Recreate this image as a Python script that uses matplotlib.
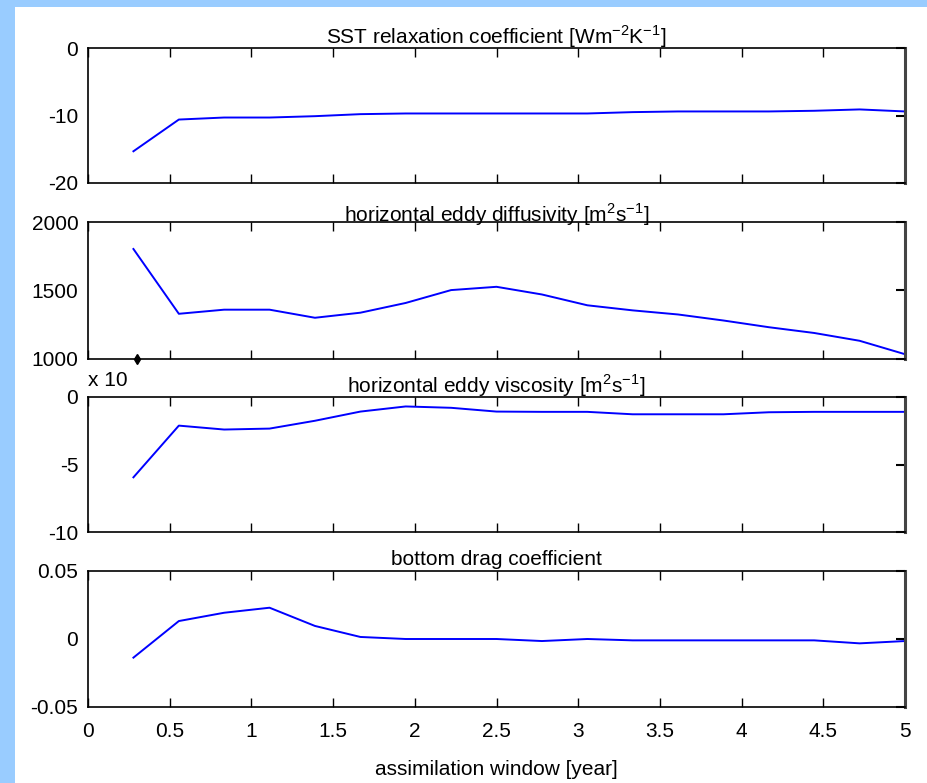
import matplotlib
matplotlib.use('Agg')
import matplotlib.pyplot as plt
from matplotlib.patches import Rectangle

plt.rcParams['font.family'] = ['Liberation Sans Narrow', 'Liberation Sans', 'DejaVu Sans']
plt.rcParams['mathtext.fontset'] = 'custom'
plt.rcParams['mathtext.rm'] = 'Liberation Sans'

# assimilation window, 100-day steps (in years)
window = [0.278, 0.556, 0.833, 1.111, 1.389, 1.667, 1.944, 2.222, 2.5,
          2.778, 3.056, 3.333, 3.611, 3.889, 4.167, 4.444, 4.722, 5.0]

sst_relax = [-15.3, -10.6, -10.3, -10.3, -10.1, -9.8, -9.7, -9.7, -9.7,
             -9.7, -9.7, -9.5, -9.4, -9.4, -9.4, -9.3, -9.1, -9.4]
eddy_diff = [1803, 1330, 1360, 1360, 1301, 1338, 1409, 1503, 1527,
             1471, 1392, 1355, 1325, 1281, 1232, 1190, 1133, 1035]
eddy_visc = [-5.95, -2.12, -2.41, -2.34, -1.76, -1.08, -0.70, -0.80, -1.08,
             -1.10, -1.10, -1.28, -1.28, -1.28, -1.13, -1.10, -1.10, -1.10]
bottom_drag = [-0.0137, 0.0132, 0.0193, 0.023, 0.0096, 0.0015, 0.0, 0.0, 0.0,
               -0.0015, 0.0, -0.001, -0.001, -0.001, -0.001, -0.001, -0.0032, -0.0015]

titles = [r'SST relaxation coefficient [Wm$^{-2}$K$^{-1}$]',
          r'horizontal eddy diffusivity [m$^{2}$s$^{-1}$]',
          r'horizontal eddy viscosity [m$^{2}$s$^{-1}$]',
          'bottom drag coefficient']
series = [sst_relax, eddy_diff, eddy_visc, bottom_drag]
ylims = [(-20, 0), (1000, 2000), (-10, 0), (-0.05, 0.05)]
yticks = [[-20, -10, 0], [1000, 1500, 2000], [-10, -5, 0], [-0.05, 0, 0.05]]
yticklabels = [['-20', '-10', '0'], ['1000', '1500', '2000'],
               ['-10', '-5', '0'], ['-0.05', '0', '0.05']]
xticks = [0, 0.5, 1, 1.5, 2, 2.5, 3, 3.5, 4, 4.5, 5]
xticklabels = ['0', '0.5', '1', '1.5', '2', '2.5', '3', '3.5', '4', '4.5', '5']

FS = 15

W, H = 927, 783
fig = plt.figure(figsize=(W / 100, H / 100), dpi=100, facecolor='#99ccff')
fig.patches.append(Rectangle((15 / W, 0), 1 - 15 / W, 1 - 7 / H,
                             transform=fig.transFigure, facecolor='white',
                             edgecolor='none', zorder=-5))

left, right = 88 / W, 905 / W
tops = [48, 222, 397, 571]
bottoms = [183, 359, 532, 707]
title_pads = [3, 0, 3, 4]

axes = []
for i in range(4):
    ax = fig.add_axes([left, 1 - bottoms[i] / H, right - left,
                       (bottoms[i] - tops[i]) / H])
    ax.plot(window, series[i], color='#0000ff', lw=1.4)
    ax.set_xlim(0, 5)
    ax.set_ylim(*ylims[i])
    ax.set_yticks(yticks[i])
    ax.set_yticklabels(yticklabels[i])
    ax.set_xticks(xticks)
    if i == 3:
        ax.set_xticklabels(xticklabels)
        ax.set_xlabel('assimilation window [year]', fontsize=FS, labelpad=14)
    else:
        ax.set_xticklabels([])
    ax.set_title(titles[i], fontsize=FS, y=1.0, pad=title_pads[i])
    ax.tick_params(axis='x', direction='in', top=True, bottom=True,
                   length=6.5, width=1, labelsize=FS, pad=10.5)
    ax.tick_params(axis='y', direction='in', left=False, right=True,
                   length=6.5, width=1.5, labelsize=FS, pad=7)
    for s in ['top', 'bottom', 'left']:
        ax.spines[s].set_linewidth(1.2)
    ax.spines['right'].set_linewidth(2.2)
    ax.spines['right'].set_color('#444444')
    axes.append(ax)

# small multiplier label and marker, as in the original export
fig.text(88 / W, 1 - 381 / H, 'x 10', fontsize=FS, ha='left', va='center')
axes[1].plot([0.3], [1000], marker='d', color='black', ms=5, clip_on=False)

fig.savefig('out.png', dpi=100, facecolor=fig.get_facecolor())
